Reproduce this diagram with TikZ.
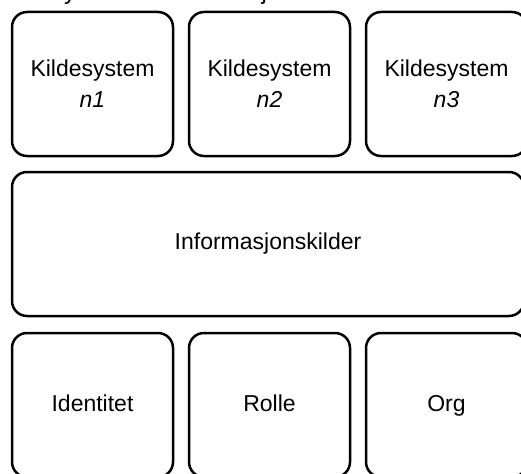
\documentclass[tikz,border=0pt]{standalone}
\usepackage{fontspec}
\setmainfont{Liberation Sans}
\usetikzlibrary{positioning}

\begin{document}
\begin{tikzpicture}[x=1pt,y=-1pt,boks/.style={rectangle, draw=black, line width=2.5pt, rounded corners=15pt, outer sep=0pt, inner sep=0pt, minimum width=161pt, minimum height=144pt, align=center, font=\fontsize{23}{31}\selectfont}, enlinje/.style={text height=17pt, text depth=5pt}]
\useasboundingbox (0,0) rectangle (521,473);
% clipped heading above the boxes
\node [anchor=base west, inner sep=0pt, font=\fontsize{24}{28}\selectfont] (tittel) at (16,0) {Delsystem for informasjon};
% source systems
\node [boks] (KS1) at (92.5,84) {Kildesystem\\\textit{n1}};
\node [boks, right=16pt of KS1] (KS2) {Kildesystem\\\textit{n2}};
\node [boks, right=16pt of KS2] (KS3) {Kildesystem\\\textit{n3}};
% information sources
\node [boks, minimum width=512pt, below right=16pt and 0pt of KS1.south west] (Info) {Informasjonskilder};
% registers
\node [boks, enlinje, below right=17pt and 0pt of Info.south west] (Ident) {Identitet};
\node [boks, enlinje, right=16pt of Ident] (Rolle) {Rolle};
\node [boks, enlinje, right=16pt of Rolle] (Org) {Org};
\end{tikzpicture}
\end{document}
